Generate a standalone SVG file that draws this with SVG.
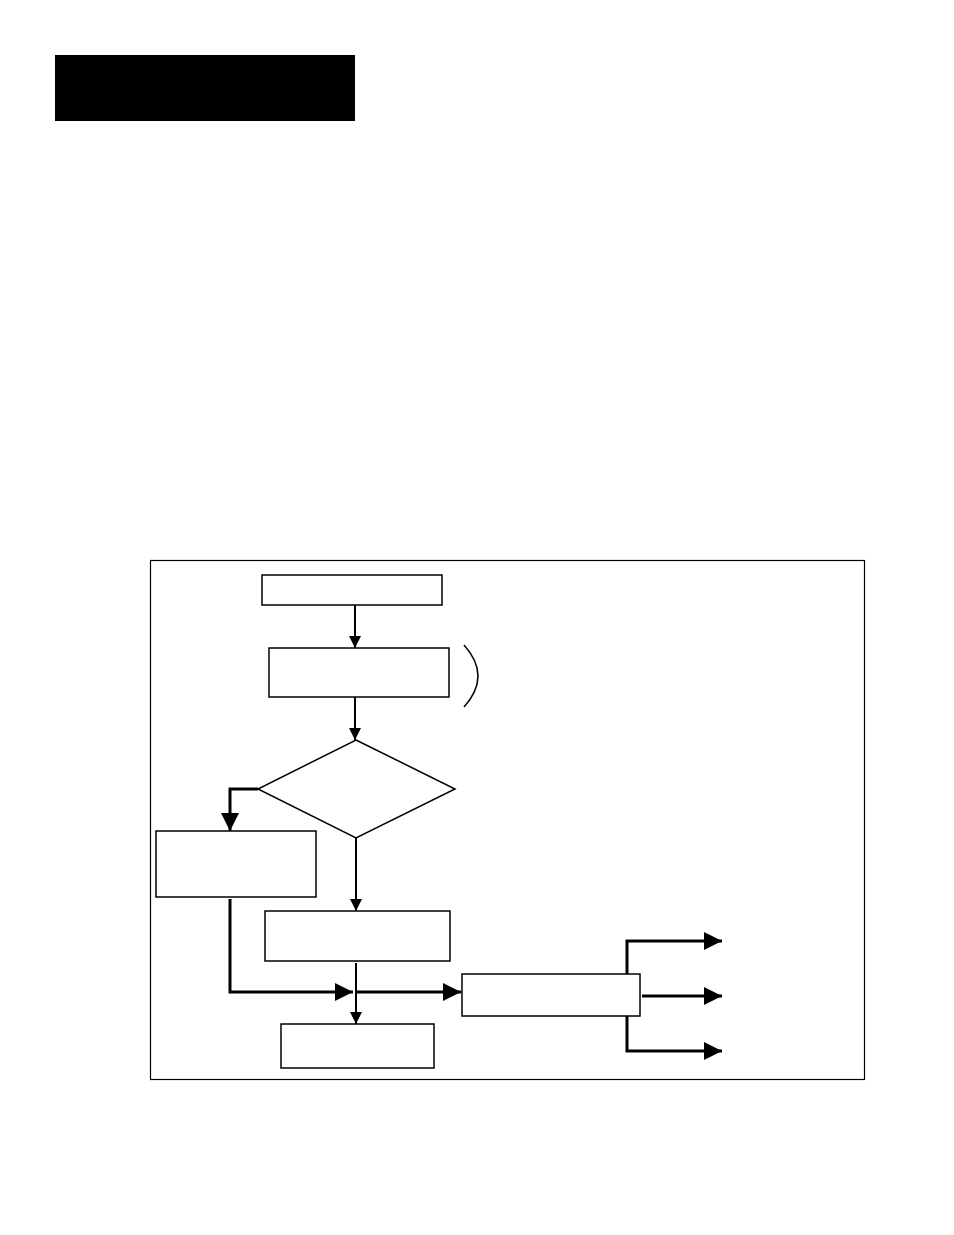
<svg xmlns="http://www.w3.org/2000/svg" width="954" height="1235" viewBox="0 0 954 1235">
<style>
.b{fill:#fff;stroke:#000;stroke-width:1.5}
.c{fill:none;stroke:#000;stroke-width:3}
.t{fill:none;stroke:#000;stroke-width:2}
</style>
<defs><marker id="a" markerWidth="6" markerHeight="6" refX="6" refY="3" orient="auto" markerUnits="strokeWidth"><path d="M0,0L6,3L0,6z" fill="#000"/></marker></defs>
<rect width="954" height="1235" fill="#fff"/>
<rect id="header" x="55" y="55" width="300" height="66" fill="#000"/>
<rect id="frame" x="150.5" y="560.5" width="714" height="519" fill="none" stroke="#000" stroke-width="1.2"/>
<g id="n1"><rect class="b" x="262" y="575" width="180" height="30"/></g>
<g id="n2"><rect class="b" x="269" y="648" width="180" height="49"/></g>
<path id="brace" d="M464,645 Q492,676 464,707" fill="none" stroke="#000" stroke-width="1.5"/>
<g id="n3"><polygon class="b" points="356,740 455,789 356,838 258,789"/></g>
<g id="n4"><rect class="b" x="156" y="831" width="160" height="66"/></g>
<g id="n5"><rect class="b" x="265" y="911" width="185" height="50"/></g>
<g id="n6"><rect class="b" x="281" y="1024" width="153" height="44"/></g>
<g id="n7"><rect class="b" x="462" y="974" width="178" height="42"/></g>
<g id="connectors">
<path class="t" d="M355,605V648" marker-end="url(#a)"/>
<path class="t" d="M355,697V740" marker-end="url(#a)"/>
<path class="c" d="M258,789H230V831" marker-end="url(#a)"/>
<path class="t" d="M356,838V911" marker-end="url(#a)"/>
<path class="t" d="M356,963V1024" marker-end="url(#a)"/>
<path class="c" d="M230,899V992H353" marker-end="url(#a)"/>
<path class="c" d="M356,992H461" marker-end="url(#a)"/>
<path class="c" d="M627,974V941H722" marker-end="url(#a)"/>
<path class="c" d="M642,996H722" marker-end="url(#a)"/>
<path class="c" d="M627,1016V1051H722" marker-end="url(#a)"/>
</g>
</svg>
